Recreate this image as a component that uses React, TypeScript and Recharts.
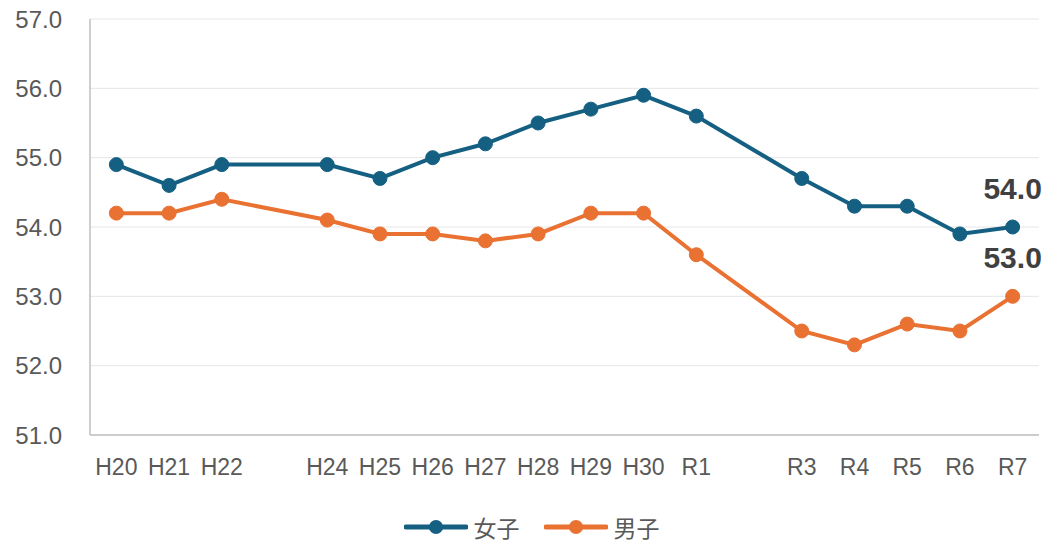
import { LineChart, Line, XAxis, YAxis, CartesianGrid, Legend } from "recharts";

const years = ["H20", "H21", "H22", "H23", "H24", "H25", "H26", "H27", "H28", "H29", "H30", "R1", "R2", "R3", "R4", "R5", "R6", "R7"];
const hiddenYears = ["H23", "R2"];
const girls = [54.9, 54.6, 54.9, null, 54.9, 54.7, 55.0, 55.2, 55.5, 55.7, 55.9, 55.6, null, 54.7, 54.3, 54.3, 53.9, 54.0];
const boys = [54.2, 54.2, 54.4, null, 54.1, 53.9, 53.9, 53.8, 53.9, 54.2, 54.2, 53.6, null, 52.5, 52.3, 52.6, 52.5, 53.0];
const yTicks = [51, 52, 53, 54, 55, 56, 57];

const BLUE = "#156082";
const ORANGE = "#E97132";

const data = years.map((y, i) => ({ year: y, girls: girls[i], boys: boys[i] }));

const lastLabel = (props: any) => {
  const { x, y, index, value } = props;
  if (index !== years.length - 1 || value == null) return null;
  return (
    <text x={x} y={y - 28} textAnchor="middle" fontSize={30} fontWeight="bold" fill="#404040" fontFamily="Liberation Sans, Arial, sans-serif">
      {Number(value).toFixed(1)}
    </text>
  );
};

const LegendContent = () => {
  const items = [
    { name: "女子", color: BLUE },
    { name: "男子", color: ORANGE },
  ];
  return (
    <div style={{ display: "flex", justifyContent: "center", gap: 24, paddingLeft: 24, paddingTop: 20 }}>
      {items.map((it) => (
        <div key={it.name} style={{ display: "flex", alignItems: "center", height: 24 }}>
          <svg width={64} height={20}>
            <line x1={2} y1={10} x2={62} y2={10} stroke={it.color} strokeWidth={5} strokeLinecap="round" />
            <circle cx={32} cy={10} r={7} fill={it.color} />
          </svg>
          <span style={{ marginLeft: 6, fontSize: 23, color: "#595959", fontFamily: "Noto Sans CJK JP, sans-serif", lineHeight: "24px" }}>
            {it.name}
          </span>
        </div>
      ))}
    </div>
  );
};

export default function App() {
  return (
    <div style={{ position: "absolute", left: 0, top: 0, background: "#fff" }}>
      <LineChart width={1048} height={544} data={data} margin={{ top: 19, right: 9, left: 0, bottom: 0 }}>
        <CartesianGrid vertical={false} stroke="#e6e6e6" />
        <XAxis
          dataKey="year"
          scale="band"
          interval={0}
          tickFormatter={(v: string) => (hiddenYears.includes(v) ? "" : v)}
          tick={{ fontSize: 23, fill: "#595959", fontFamily: "Liberation Sans, Arial, sans-serif" }}
          axisLine={{ stroke: "#bfbfbf", strokeWidth: 1.5 }}
          tickLine={false}
          tickMargin={18}
          height={60}
        />
        <YAxis
          domain={[51, 57]}
          ticks={yTicks}
          tickFormatter={(v: number) => v.toFixed(1)}
          tick={{ fontSize: 24, fill: "#595959", fontFamily: "Liberation Sans, Arial, sans-serif" }}
          axisLine={{ stroke: "#bfbfbf", strokeWidth: 1.5 }}
          tickLine={false}
          tickMargin={22}
          width={90}
        />
        <Legend verticalAlign="bottom" height={49} content={<LegendContent />} />
        <Line
          type="linear"
          dataKey="girls"
          name="女子"
          stroke={BLUE}
          strokeWidth={4}
          dot={{ r: 7, fill: BLUE, stroke: BLUE, strokeWidth: 1 }}
          connectNulls
          isAnimationActive={false}
          label={lastLabel}
        />
        <Line
          type="linear"
          dataKey="boys"
          name="男子"
          stroke={ORANGE}
          strokeWidth={4}
          dot={{ r: 7, fill: ORANGE, stroke: ORANGE, strokeWidth: 1 }}
          connectNulls
          isAnimationActive={false}
          label={lastLabel}
        />
      </LineChart>
    </div>
  );
}
